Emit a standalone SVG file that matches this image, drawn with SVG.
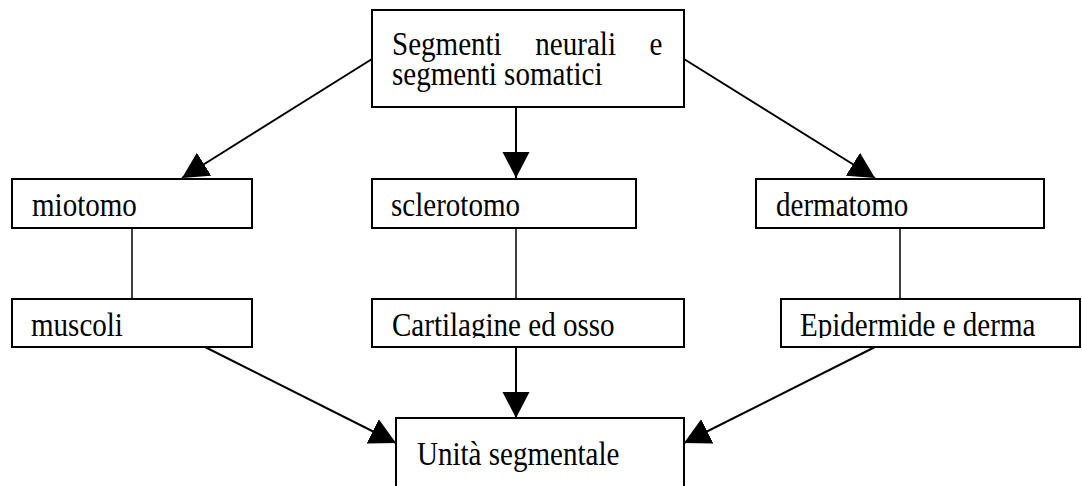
<svg xmlns="http://www.w3.org/2000/svg" width="1082" height="486" viewBox="0 0 1082 486">
<style>
.box{fill:#fff;stroke:#000;stroke-width:2}
.t{font-family:"Liberation Serif","Times New Roman",serif;font-size:33px;fill:#000}
.ln{stroke:#000;stroke-width:1.5;fill:none}
.ar{stroke:#000;stroke-width:2;fill:none;marker-end:url(#ah)}
</style>
<defs>
<marker id="ah" markerUnits="userSpaceOnUse" markerWidth="28" markerHeight="28" refX="26" refY="13.5" orient="auto" viewBox="0 0 28 28">
<path d="M0,0 L26,13.5 L0,27 Z" fill="#000"/>
</marker>
<clipPath id="c1" clipPathUnits="userSpaceOnUse"><rect x="0" y="299" width="1082" height="39"/></clipPath>
</defs>
<g id="connectors">
<line class="ar" x1="372" y1="59" x2="182" y2="178"/>
<line class="ar" x1="516" y1="107" x2="516" y2="178"/>
<line class="ar" x1="684" y1="59" x2="875" y2="178"/>
<line class="ln" x1="132" y1="228" x2="132" y2="299"/>
<line class="ln" x1="516" y1="228" x2="516" y2="299"/>
<line class="ln" x1="900" y1="228" x2="900" y2="299"/>
<line class="ar" x1="205" y1="347" x2="396" y2="443"/>
<line class="ar" x1="516" y1="347" x2="516" y2="418"/>
<line class="ar" x1="875" y1="347" x2="684" y2="443"/>
</g>
<g id="n-top">
<rect class="box" x="372" y="10" width="312" height="97"/>
<text class="t" transform="translate(392 55) scale(0.88 1)" word-spacing="30">Segmenti neurali e</text>
<text class="t" transform="translate(392 85) scale(0.88 1)">segmenti somatici</text>
</g>
<g id="n-miotomo">
<rect class="box" x="12" y="179" width="240" height="49"/>
<text class="t" transform="translate(32 216) scale(0.88 1)">miotomo</text>
</g>
<g id="n-sclerotomo">
<rect class="box" x="372" y="179" width="264" height="49"/>
<text class="t" transform="translate(391 216) scale(0.88 1)">sclerotomo</text>
</g>
<g id="n-dermatomo">
<rect class="box" x="756" y="179" width="288" height="49"/>
<text class="t" transform="translate(776 216) scale(0.88 1)">dermatomo</text>
</g>
<g id="n-muscoli">
<rect class="box" x="12" y="299" width="240" height="48"/>
<g clip-path="url(#c1)"><text class="t" transform="translate(31 336) scale(0.88 1)">muscoli</text></g>
</g>
<g id="n-cartilagine">
<rect class="box" x="372" y="299" width="312" height="48"/>
<g clip-path="url(#c1)"><text class="t" transform="translate(392 336) scale(0.88 1)">Cartilagine ed osso</text></g>
</g>
<g id="n-epidermide">
<rect class="box" x="781" y="299" width="299" height="48"/>
<g clip-path="url(#c1)"><text class="t" transform="translate(800 336) scale(0.88 1)">Epidermide e derma</text></g>
</g>
<g id="n-unita">
<rect class="box" x="396" y="418" width="288" height="80"/>
<text class="t" transform="translate(417 465) scale(0.88 1)">Unità segmentale</text>
</g>
</svg>
